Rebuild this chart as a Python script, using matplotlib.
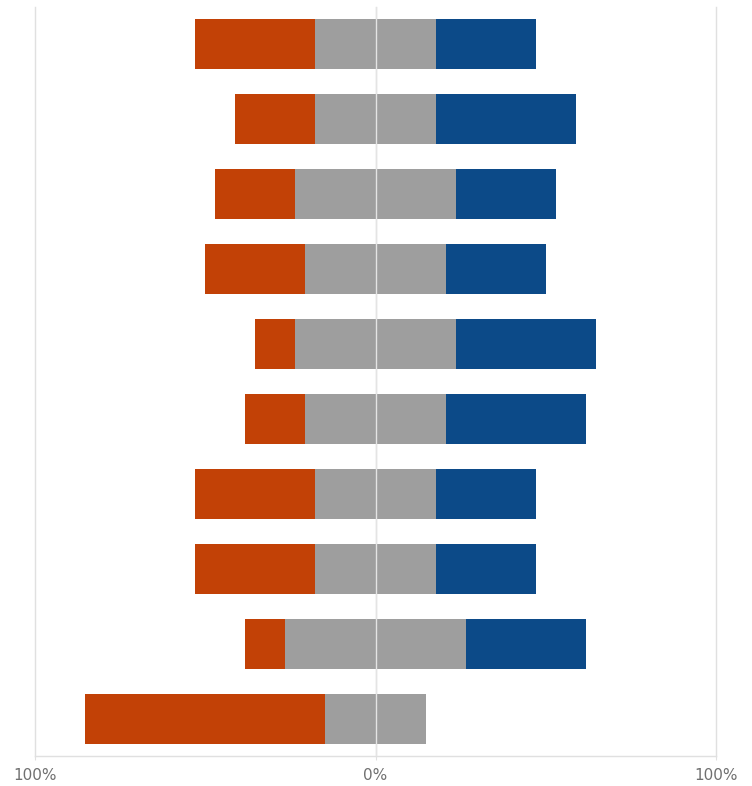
import numpy as np
import matplotlib.pyplot as plt

# share of answers per row (%), top row first
negative = [35.3, 23.5, 23.5, 29.4, 11.8, 17.6, 35.3, 35.3, 11.8, 70.6]
neutral = [35.3, 35.3, 47.1, 41.2, 47.1, 41.2, 35.3, 35.3, 52.9, 29.4]
positive = [29.4, 41.2, 29.4, 29.4, 41.1, 41.2, 29.4, 29.4, 35.3, 0.0]

tick_pos = [-100, 0, 100]
tick_labels = ["100%", "0%", "100%"]

neg = np.array(negative)
neu = np.array(neutral)
pos = np.array(positive)
rows = np.arange(len(neg))

orange = "#C24106"
gray = "#9E9E9E"
blue = "#0C4A88"

fig = plt.figure(figsize=(7.52, 7.86), dpi=100)
ax = fig.add_axes([35 / 752, 30 / 786, (716 - 35) / 752, (756 - 6.5) / 786])

h = 0.667
ax.barh(rows, neg, left=-neu / 2 - neg, height=h, color=orange, zorder=2)
ax.barh(rows, neu, left=-neu / 2, height=h, color=gray, zorder=2)
ax.barh(rows, pos, left=neu / 2, height=h, color=blue, zorder=2)

for x in tick_pos:
    ax.axvline(x, color="#E0E0E0", lw=1, zorder=1, clip_on=False)
ax.axvline(0, color="#E4E4E4", lw=1, zorder=3)
ax.axhline(9.5, color="#E0E0E0", lw=1, zorder=1, clip_on=False)

ax.set_xlim(-100, 100)
ax.set_ylim(9.5, -0.5)
ax.set_xticks(tick_pos)
ax.set_xticklabels(tick_labels, fontsize=11, color="#707070")
ax.tick_params(axis="x", length=3, color="#E0E0E0", pad=6)
ax.set_yticks([])
for s in ax.spines.values():
    s.set_visible(False)

fig.savefig("out.png", dpi=100)
